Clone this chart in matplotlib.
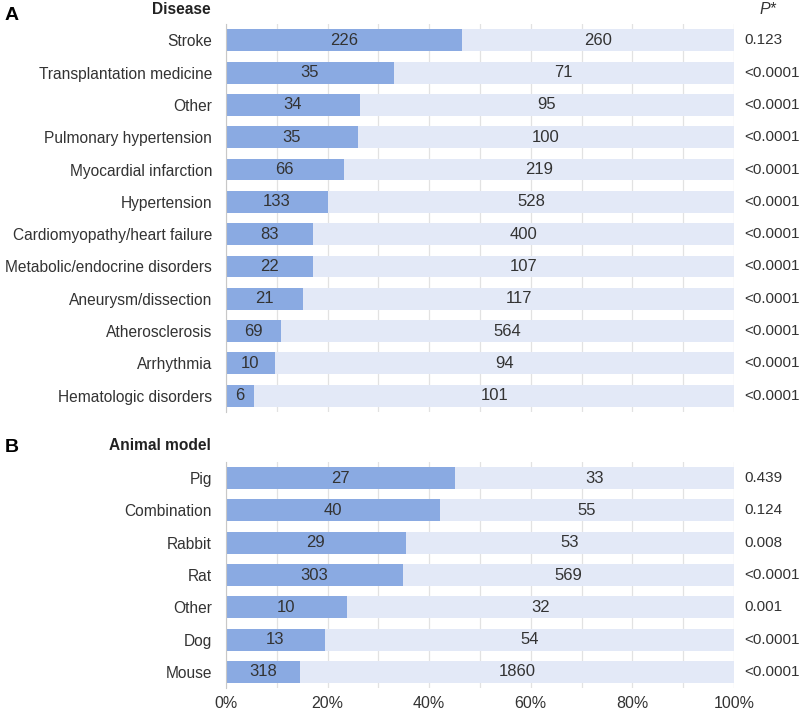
import matplotlib
matplotlib.use("Agg")
import matplotlib.pyplot as plt
import numpy as np

plt.rcParams['font.family'] = ['Liberation Sans', 'DejaVu Sans']

# panel A - disease
disease = ['Stroke', 'Transplantation medicine', 'Other', 'Pulmonary hypertension',
           'Myocardial infarction', 'Hypertension', 'Cardiomyopathy/heart failure',
           'Metabolic/endocrine disorders', 'Aneurysm/dissection', 'Atherosclerosis',
           'Arrhythmia', 'Hematologic disorders']
disease_a = [226, 35, 34, 35, 66, 133, 83, 22, 21, 69, 10, 6]
disease_b = [260, 71, 95, 100, 219, 528, 400, 107, 117, 564, 94, 101]
disease_p = ['0.123'] + ['<0.0001'] * 11

# panel B - animal model
animal = ['Pig', 'Combination', 'Rabbit', 'Rat', 'Other', 'Dog', 'Mouse']
animal_a = [27, 40, 29, 303, 10, 13, 318]
animal_b = [33, 55, 53, 569, 32, 54, 1860]
animal_p = ['0.439', '0.124', '0.008', '<0.0001', '0.001', '<0.0001', '<0.0001']

dark = '#8aaae2'
light = '#e3e9f7'
txt = '#333333'

fig = plt.figure(figsize=(8, 7.13), dpi=100)
ax1 = fig.add_axes([0.2825, 0.4222, 0.635, 0.5441])
ax2 = fig.add_axes([0.2825, 0.035, 0.635, 0.317])


def panel(ax, cats, a, b, pv, show_x):
    a = np.array(a, float)
    b = np.array(b, float)
    frac = a / (a + b) * 100
    y = np.arange(len(cats))
    ax.barh(y, frac, height=0.68, color=dark, zorder=2)
    ax.barh(y, 100 - frac, left=frac, height=0.68, color=light, zorder=2)
    for i in range(len(cats)):
        ax.text(frac[i] / 2, y[i], f'{int(a[i])}', ha='center', va='center',
                fontsize=12, color=txt, zorder=3)
        ax.text(frac[i] + (100 - frac[i]) / 2, y[i], f'{int(b[i])}', ha='center',
                va='center', fontsize=12, color=txt, zorder=3)
        ax.text(102.0, y[i], pv[i], ha='left', va='center', fontsize=11, color=txt,
                clip_on=False)
    ax.set_xlim(0, 100)
    ax.set_ylim(len(cats) - 0.5, -0.5)
    ax.set_yticks(y)
    ax.set_yticklabels(cats, fontsize=11.2, color=txt)
    ax.set_xticks(np.arange(0, 101, 10), minor=True)
    ax.set_xticks(np.arange(0, 101, 20))
    ax.grid(axis='x', which='both', color='#e2e2e2', lw=0.9, zorder=0)
    ax.tick_params(axis='both', which='both', length=0)
    ax.tick_params(axis='y', pad=10)
    ax.tick_params(axis='x', pad=6, labelsize=11.5, labelcolor=txt)
    if show_x:
        ax.set_xticklabels([f'{v}%' for v in range(0, 101, 20)])
    else:
        ax.set_xticklabels([])
    for s in ['top', 'right', 'bottom']:
        ax.spines[s].set_visible(False)
    ax.spines['left'].set_color('#c8c8c8')


panel(ax1, disease, disease_a, disease_b, disease_p, False)
panel(ax2, animal, animal_a, animal_b, animal_p, True)

fig.text(5 / 800, 1 - 15 / 713, 'A', fontsize=14, fontweight='bold', va='center')
fig.text(211 / 800, 1 - 9 / 713, 'Disease', fontsize=11.2, fontweight='bold',
         ha='right', va='center', color='#222222')
fig.text(768 / 800, 1 - 10 / 713, 'P*', fontsize=11.5, style='italic',
         ha='center', va='center', color=txt)
fig.text(5 / 800, 1 - 448 / 713, 'B', fontsize=14, fontweight='bold', va='center')
fig.text(211 / 800, 1 - 446 / 713, 'Animal model', fontsize=11.2, fontweight='bold',
         ha='right', va='center', color='#222222')

fig.savefig('out.png', dpi=100)
